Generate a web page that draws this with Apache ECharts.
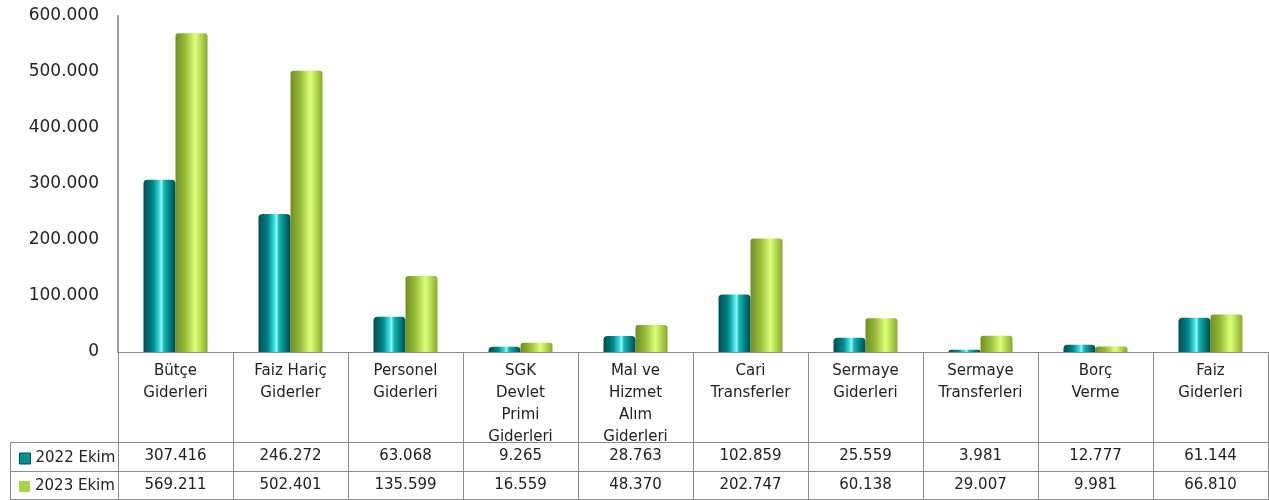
<!DOCTYPE html>
<html>
<head>
<meta charset="utf-8">
<script src="https://cdn.jsdelivr.net/npm/echarts@6/dist/echarts.min.js"></script>
<style>
  html, body { margin: 0; padding: 0; background: #fff; }
  #chart { width: 1269px; height: 500px; }
</style>
</head>
<body>
<div id="chart"></div>
<script>
const categories = [
  'Bütçe\nGiderleri', 'Faiz Hariç\nGiderler', 'Personel\nGiderleri',
  'SGK\nDevlet\nPrimi\nGiderleri', 'Mal ve\nHizmet\nAlım\nGiderleri',
  'Cari\nTransferler', 'Sermaye\nGiderleri', 'Sermaye\nTransferleri',
  'Borç\nVerme', 'Faiz\nGiderleri'
]
const seriesNames = ['2022 Ekim', '2023 Ekim']
const values2022 = [307416, 246272, 63068, 9265, 28763, 102859, 25559, 3981, 12777, 61144]
const values2023 = [569211, 502401, 135599, 16559, 48370, 202747, 60138, 29007, 9981, 66810]
const yTicks = [0, 100000, 200000, 300000, 400000, 500000, 600000]

const font = 'DejaVu Sans'
const lineColor = '#8c8c8c'

// 1.234.567 style
function fmt(v) {
  return String(v).replace(/\B(?=(\d{3})+(?!\d))/g, '.')
}

const tealFill = new echarts.graphic.LinearGradient(0, 0, 1, 0, [
  { offset: 0, color: '#004d4f' },
  { offset: 0.3, color: '#00868a' },
  { offset: 0.5, color: '#3fe0e0' },
  { offset: 0.56, color: '#8ff8f8' },
  { offset: 0.64, color: '#1ab4b6' },
  { offset: 0.85, color: '#00787a' },
  { offset: 1, color: '#004a4c' }
])
const greenFill = new echarts.graphic.LinearGradient(0, 0, 1, 0, [
  { offset: 0, color: '#6f8f22' },
  { offset: 0.3, color: '#97bb3a' },
  { offset: 0.62, color: '#dcff78' },
  { offset: 0.8, color: '#b4d850' },
  { offset: 1, color: '#87aa2e' }
])

const chart = echarts.init(document.getElementById('chart'))

const tableAxis = (offset, vals) => ({
  type: 'category',
  position: 'bottom',
  offset: offset,
  data: categories,
  axisLine: { show: true, lineStyle: { color: lineColor, width: 1 } },
  axisTick: { show: true, length: 29, lineStyle: { color: lineColor } },
  axisLabel: {
    formatter: (v, i) => vals ? fmt(vals[i]) : '',
    fontFamily: font, fontSize: 15, color: '#222',
    lineHeight: 20, margin: 4
  }
})

const legendRow = (name, top, iconStyle) => ({
  left: 14,
  top: top,
  itemWidth: 11,
  itemHeight: 11,
  textStyle: { fontFamily: font, fontSize: 15, color: '#222' },
  data: [{ name: name, icon: 'rect', itemStyle: iconStyle }]
})

chart.setOption({
  animation: false,
  grid: { left: 118, right: 1, top: 16, bottom: 148, containLabel: false, outerBoundsMode: 'none' },
  legend: [
    legendRow(seriesNames[0], 446, { color: '#0b8f92', borderColor: '#004d4f', borderWidth: 1 }),
    legendRow(seriesNames[1], 474, { color: '#a6d446' })
  ],
  xAxis: [
    {
      type: 'category',
      data: categories,
      axisLine: { lineStyle: { color: lineColor, width: 1 } },
      axisTick: { show: true, length: 90, lineStyle: { color: lineColor } },
      axisLabel: {
        fontFamily: font, fontSize: 15, color: '#222',
        lineHeight: 22, margin: 8, verticalAlign: 'top'
      }
    },
    tableAxis(90, values2022),
    tableAxis(119, values2023),
    Object.assign(tableAxis(147, null), { axisTick: { show: false } })
  ],
  yAxis: {
    type: 'value',
    min: yTicks[0],
    max: yTicks[yTicks.length - 1],
    interval: 100000,
    axisLine: { show: true, lineStyle: { color: '#a0a0a0', width: 2 } },
    axisTick: { show: false },
    splitLine: { show: false },
    axisLabel: {
      fontFamily: font, fontSize: 17, color: '#222', margin: 19,
      formatter: v => fmt(v)
    }
  },
  series: [
    {
      name: seriesNames[0],
      type: 'bar',
      barWidth: 32,
      barGap: '0%',
      data: values2022,
      itemStyle: { color: tealFill, borderRadius: [4, 4, 0, 0] }
    },
    {
      name: seriesNames[1],
      type: 'bar',
      barWidth: 32,
      barGap: '0%',
      data: values2023,
      itemStyle: { color: greenFill, borderRadius: [3, 3, 0, 0] }
    }
  ],
  graphic: [
    // borders of the legend column of the data table
    { type: 'line', shape: { x1: 10, y1: 442.5, x2: 118, y2: 442.5 }, style: { stroke: lineColor, lineWidth: 1 } },
    { type: 'line', shape: { x1: 10, y1: 471.5, x2: 118, y2: 471.5 }, style: { stroke: lineColor, lineWidth: 1 } },
    { type: 'line', shape: { x1: 10, y1: 499.5, x2: 118, y2: 499.5 }, style: { stroke: lineColor, lineWidth: 1 } },
    { type: 'line', shape: { x1: 10.5, y1: 442, x2: 10.5, y2: 500 }, style: { stroke: lineColor, lineWidth: 1 } }
  ]
})
</script>
</body>
</html>
